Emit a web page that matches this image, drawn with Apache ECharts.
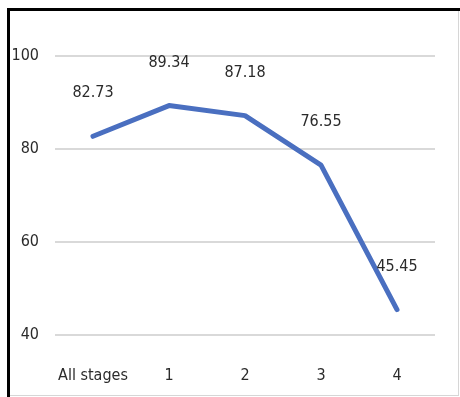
<!DOCTYPE html>
<html>
<head>
<meta charset="utf-8">
<script src="https://cdn.jsdelivr.net/npm/echarts@6/dist/echarts.min.js"></script>
<style>
  html, body { margin: 0; padding: 0; background: #fff; }
  #chart { width: 460px; height: 397px; }
</style>
</head>
<body>
<div id="chart"></div>
<script>
// Survival rate by stage
const categories = ['All stages', '1', '2', '3', '4'];
const values = [82.73, 89.34, 87.18, 76.55, 45.45];
const yTicks = [40, 60, 80, 100];

const FONT = '"DejaVu Sans Condensed", "Liberation Sans Narrow", "Liberation Sans", sans-serif';
const BLUE = '#4a6fc0';

const chart = echarts.init(document.getElementById('chart'), null, { renderer: 'canvas' });

chart.setOption({
  animation: false,
  backgroundColor: '#ffffff',
  grid: { left: 55, right: 25, top: 56, bottom: 62, containLabel: false },
  graphic: [
    // frame around the chart area
    { type: 'rect', shape: { x: 458, y: 10, width: 1, height: 386 }, style: { fill: '#d6d6d6' }, silent: true },
    { type: 'rect', shape: { x: 8, y: 395, width: 451, height: 1 }, style: { fill: '#d6d6d6' }, silent: true },
    { type: 'rect', shape: { x: 7, y: 8, width: 453, height: 3 }, style: { fill: '#000' }, silent: true },
    { type: 'rect', shape: { x: 7, y: 8, width: 3, height: 389 }, style: { fill: '#000' }, silent: true }
  ],
  xAxis: {
    type: 'category',
    data: categories,
    boundaryGap: true,
    axisLine: { show: false },
    axisTick: { show: false },
    axisLabel: {
      interval: 0,
      color: '#2b2b2b',
      fontFamily: FONT,
      fontSize: 16,
      margin: 33
    }
  },
  yAxis: {
    type: 'value',
    min: yTicks[0],
    max: yTicks[yTicks.length - 1],
    interval: 20,
    axisLine: { show: false },
    axisTick: { show: false },
    splitLine: { lineStyle: { color: '#d9d9d9', width: 2 } },
    axisLabel: {
      color: '#2b2b2b',
      fontFamily: FONT,
      fontSize: 16,
      margin: 16
    }
  },
  series: [{
    type: 'line',
    data: values,
    symbol: 'circle',
    symbolSize: 2,
    showSymbol: true,
    itemStyle: { color: BLUE, borderWidth: 0 },
    lineStyle: { color: BLUE, width: 5, cap: 'round', join: 'round' },
    label: {
      show: true,
      position: 'top',
      distance: 34,
      color: '#2b2b2b',
      fontFamily: FONT,
      fontSize: 16,
      formatter: p => p.value.toFixed(2)
    }
  }]
});
</script>
</body>
</html>
